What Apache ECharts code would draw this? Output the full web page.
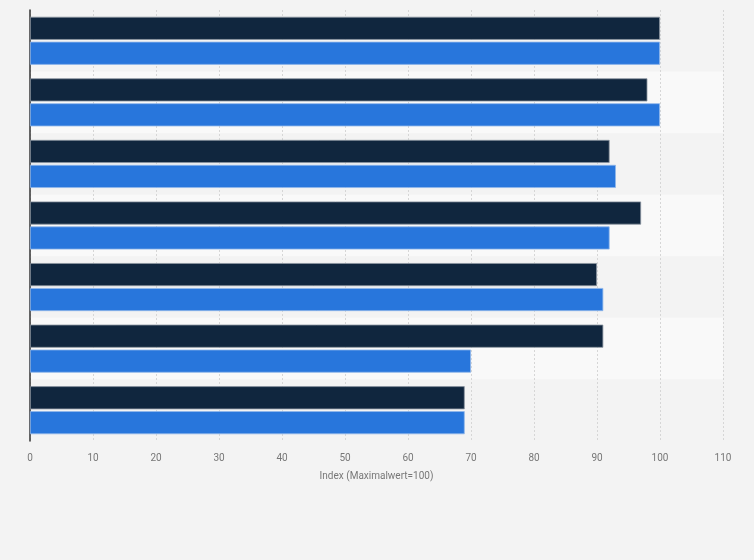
<!DOCTYPE html>
<html>
<head>
<meta charset="utf-8">
<script src="https://cdn.jsdelivr.net/npm/echarts@6/dist/echarts.min.js"></script>
<style>
    html, body { margin: 0; padding: 0; background: #f3f3f3; }
    #chart { width: 754px; height: 560px; }
</style>
</head>
<body>
<div id="chart"></div>
<script>
// 数据
const categories = ['A', 'B', 'C', 'D', 'E', 'F', 'G'];
const seriesDark = [100, 98, 92, 97, 90, 91, 69];
const seriesBlue = [100, 100, 93, 92, 91, 70, 69];
const xTicks = { min: 0, max: 110, interval: 10 };
const axisTitle = 'Index (Maximalwert=100)';

const chart = echarts.init(document.getElementById('chart'));

chart.setOption({
    backgroundColor: '#f3f3f3',
    animation: false,
    grid: { left: 30, right: 31, top: 10, bottom: 119 },
    xAxis: {
        type: 'value',
        min: xTicks.min,
        max: xTicks.max,
        interval: xTicks.interval,
        name: axisTitle,
        nameLocation: 'middle',
        nameGap: 30,
        nameTextStyle: { color: '#777', fontSize: 10, fontFamily: 'Roboto' },
        axisLine: { show: false },
        axisTick: { show: false },
        axisLabel: { color: '#777', fontSize: 10, fontFamily: 'Roboto', margin: 12 },
        splitLine: { show: true, lineStyle: { color: '#d6d6d6', type: [2, 2], width: 1 } }
    },
    yAxis: {
        type: 'category',
        data: categories,
        inverse: true,
        axisLine: { show: true, lineStyle: { color: '#333', width: 1.5 } },
        axisTick: { show: false },
        axisLabel: { show: false },
        splitArea: { show: true, areaStyle: { color: ['#f3f3f3', '#f9f9f9'] } }
    },
    series: [
        {
            name: 'Serie 1',
            type: 'bar',
            data: seriesDark,
            barGap: '8%',
            barCategoryGap: '22%',
            itemStyle: { color: '#10263e', borderColor: '#8a94a0', borderWidth: 0.8 }
        },
        {
            name: 'Serie 2',
            type: 'bar',
            data: seriesBlue,
            itemStyle: { color: '#2876dc', borderColor: '#8fb6ea', borderWidth: 0.8 }
        }
    ]
});
</script>
</body>
</html>
